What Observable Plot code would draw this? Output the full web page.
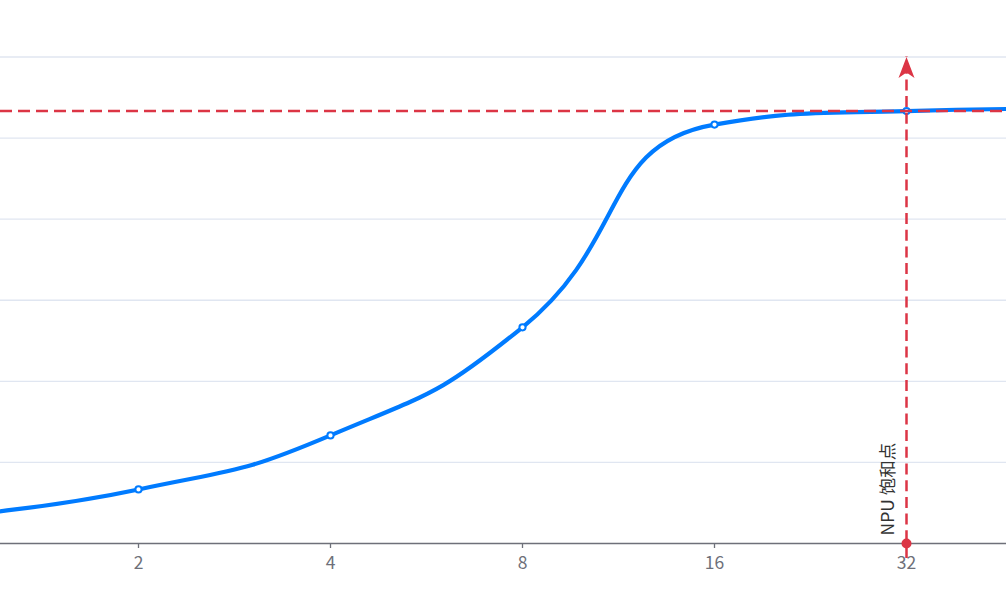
<!DOCTYPE html>
<html>
<head>
<meta charset="utf-8">
<script src="https://cdn.jsdelivr.net/npm/d3@7"></script>
<script src="https://cdn.jsdelivr.net/npm/@observablehq/plot@0.6"></script>
<style>
  html, body { margin: 0; padding: 0; background: #fff; }
  #chart svg { display: block; }
</style>
</head>
<body>
<div id="chart"></div>
<script>
// ---- data ----
const batchSizes = [1, 2, 4, 8, 16, 32, 64];
const throughput = [1, 2, 4, 8, 15.5, 16, 16.1];
const xTicks = [2, 4, 8, 16, 32];
const yTicks = [0, 3, 6, 9, 12, 15, 18];
const yMax = 18;
const saturationBatch = 32;
const saturationValue = 16;
const saturationLabel = "NPU 饱和点";

const data = batchSizes.map((b, i) => ({batch: b, tp: throughput[i]}));

const BLUE = "#007bff";
const RED = "#dc3545";
const AXIS = "#6E7079";
const GRID = "#E0E6F1";

// ECharts-style smooth curve (smooth = 0.5) as a d3 curve factory
function echartsSmooth(context) {
  let pts;
  const smooth = 0.5;
  const clamp = (v, a, b) => Math.max(Math.min(v, Math.max(a, b)), Math.min(a, b));
  return {
    areaStart() {}, areaEnd() {},
    lineStart() { pts = []; },
    point(x, y) { pts.push([+x, +y]); },
    lineEnd() {
      const n = pts.length;
      let prevX, prevY, cpx0, cpy0, cpx1, cpy1;
      for (let i = 0; i < n; i++) {
        const [x, y] = pts[i];
        if (i === 0) {
          context.moveTo(x, y); cpx0 = x; cpy0 = y;
        } else {
          let ncx, ncy;
          if (i === n - 1) {
            cpx1 = x; cpy1 = y;
          } else {
            const [nx, ny] = pts[i + 1];
            let vx = nx - prevX, vy = ny - prevY;
            const lp = Math.hypot(x - prevX, y - prevY);
            const ln = Math.hypot(nx - x, ny - y);
            const r = ln / (ln + lp);
            ncx = clamp(x + vx * smooth * r, nx, x);
            ncy = clamp(y + vy * smooth * r, ny, y);
            vx = ncx - x; vy = ncy - y;
            cpx1 = clamp(x - vx * lp / ln, prevX, x);
            cpy1 = clamp(y - vy * lp / ln, prevY, y);
            vx = x - cpx1; vy = y - cpy1;
            ncx = x + vx * ln / lp;
            ncy = y + vy * ln / lp;
          }
          context.bezierCurveTo(cpx0, cpy0, cpx1, cpy1, x, y);
          cpx0 = ncx; cpy0 = ncy;
        }
        prevX = x; prevY = y;
      }
    }
  };
}

// ECharts-like arrow symbol, tip at the anchor point
const arrowSymbol = {
  draw(ctx) {
    ctx.moveTo(0, 0);
    ctx.lineTo(8, 21);
    ctx.lineTo(0, 15.5);
    ctx.lineTo(-8, 21);
    ctx.closePath();
  }
};

const chart = Plot.plot({
  width: 1006,
  height: 599,
  marginTop: 56.5,
  marginBottom: 56,
  marginLeft: 0,
  marginRight: 0,
  style: {background: "#fff", fontFamily: "'Noto Sans CJK SC', 'Noto Sans', sans-serif"},
  x: {type: "log", base: 2, domain: [1, 64], range: [-54, 1098], axis: null},
  y: {domain: [0, yMax], axis: null},
  marks: [
    Plot.gridY(yTicks.filter(d => d > 0), {stroke: GRID, strokeOpacity: 1, strokeWidth: 1.3}),
    Plot.ruleY([0], {stroke: AXIS, strokeWidth: 1.3}),
    Plot.axisX({
      ticks: xTicks,
      tickFormat: () => "",
      tickSize: 5,
      stroke: AXIS,
      strokeWidth: 1.3
    }),
    Plot.text(xTicks, {
      x: d => d, y: () => 0, text: d => String(d),
      dy: 19.5, fontSize: 17.5, fill: AXIS, lineAnchor: "middle"
    }),
    Plot.line(data, {x: "batch", y: "tp", curve: echartsSmooth, stroke: BLUE, strokeWidth: 4.2}),
    Plot.dot(data, {x: "batch", y: "tp", r: 3.1, fill: "white", stroke: BLUE, strokeWidth: 2}),
    Plot.ruleY([saturationValue], {stroke: RED, strokeWidth: 2.5, strokeDasharray: "12,6"}),
    Plot.ruleX([saturationBatch], {y1: 0, y2: yMax, insetTop: 15, stroke: RED, strokeWidth: 2.5, strokeDasharray: "11,5.7"}),
    Plot.dot([{x: saturationBatch, y: yMax}], {x: "x", y: "y", symbol: arrowSymbol, fill: RED, stroke: "none"}),
    Plot.dot([{x: saturationBatch, y: 0}], {x: "x", y: "y", r: 5, fill: RED, stroke: "none"}),
    Plot.text([saturationLabel], {
      x: () => saturationBatch, y: () => 0,
      text: d => d,
      rotate: -90, textAnchor: "start", lineAnchor: "middle",
      dx: -18, dy: -8, fontSize: 17.5, fill: "#333"
    })
  ]
});
document.getElementById("chart").appendChild(chart);
</script>
</body>
</html>
